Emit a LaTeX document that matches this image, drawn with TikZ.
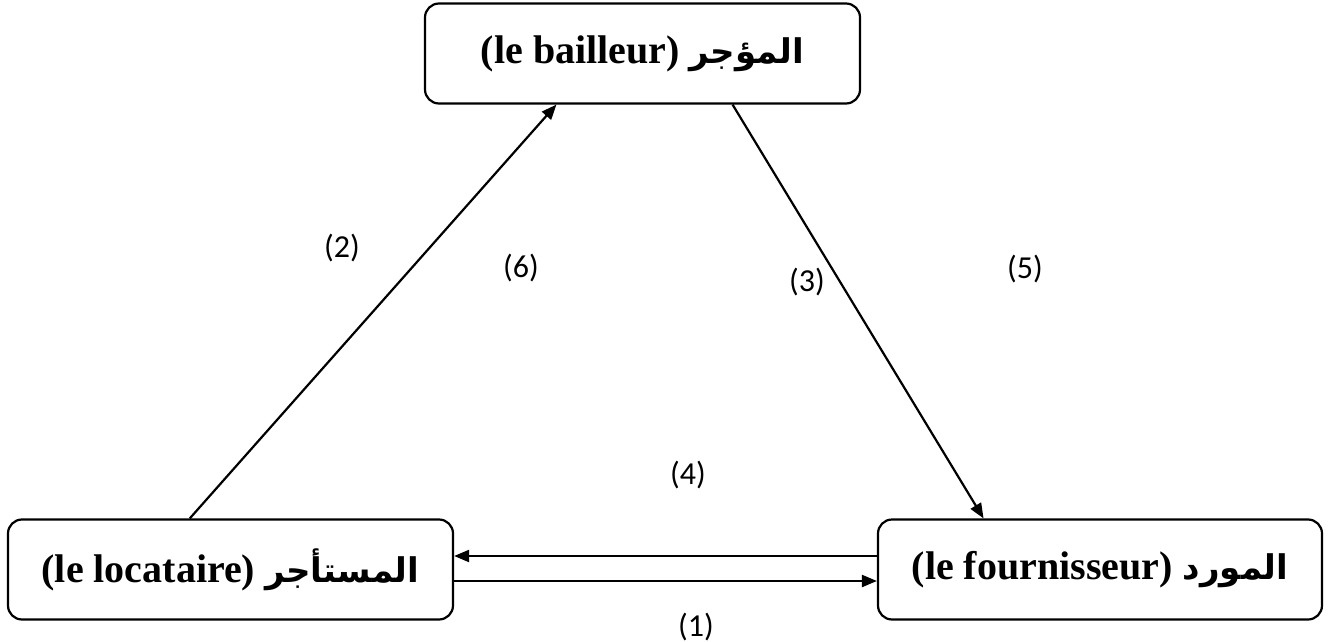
\documentclass[tikz,border=0pt]{standalone}
\usepackage{fontspec}
\setmainfont{Liberation Serif}
\newfontfamily\arabicfont[Script=Arabic]{DejaVu Sans}
\newfontfamily\lblfont{Carlito}
\TeXXeTstate=1
\usetikzlibrary{arrows.meta,calc}
\begin{document}
\begin{tikzpicture}[x=0.5pt,y=-0.5pt,
  party/.style={draw,line width=1.1pt,rounded corners=7pt,minimum height=50pt,inner sep=0pt,
    font=\fontsize{20}{24}\selectfont\bfseries},
  conn/.style={line width=1.1pt,-{Triangle[length=7.5pt,width=6pt]}},
  num/.style={font=\lblfont\fontsize{16}{19}\selectfont}]
\useasboundingbox (0,0) rectangle (1328,642);
\newcommand{\ar}[1]{{\arabicfont\fontsize{17}{20}\selectfont\bfseries\beginR #1\endR}}
\newcommand{\up}[1]{\raisebox{2pt}{#1}}
\node[party,minimum width=217.5pt] (T) at (642.5,53.5) {\up{(le bailleur) \ar{المؤجر}}};
\node[party,minimum width=222.5pt] (L) at (230.5,569.5) {\up{(le locataire) \ar{المستأجر}}};
\node[party,minimum width=222pt] (R) at (1100,569.5) {\up{(le fournisseur) \ar{المورد}}};
\draw[conn] ($(L.north west)!0.409!(L.north east)$) -- ($(T.south west)!0.303!(T.south east)$);
\draw[conn] ($(T.south west)!0.706!(T.south east)$) -- ($(R.north west)!0.239!(R.north east)$);
\draw[conn] ([yshift=6.75pt]R.west) -- ([yshift=6.75pt]L.east);
\draw[conn] ([yshift=-5.75pt]L.east) -- ([yshift=-5.75pt]R.west);
\node[num] (n2) at (342,248) {(2)};
\node[num] (n6) at (521,268) {(6)};
\node[num] (n3) at (807,282) {(3)};
\node[num] (n5) at (1025,269) {(5)};
\node[num] (n4) at (688,475) {(4)};
\node[num] (n1) at (696,627) {(1)};
\end{tikzpicture}
\end{document}
